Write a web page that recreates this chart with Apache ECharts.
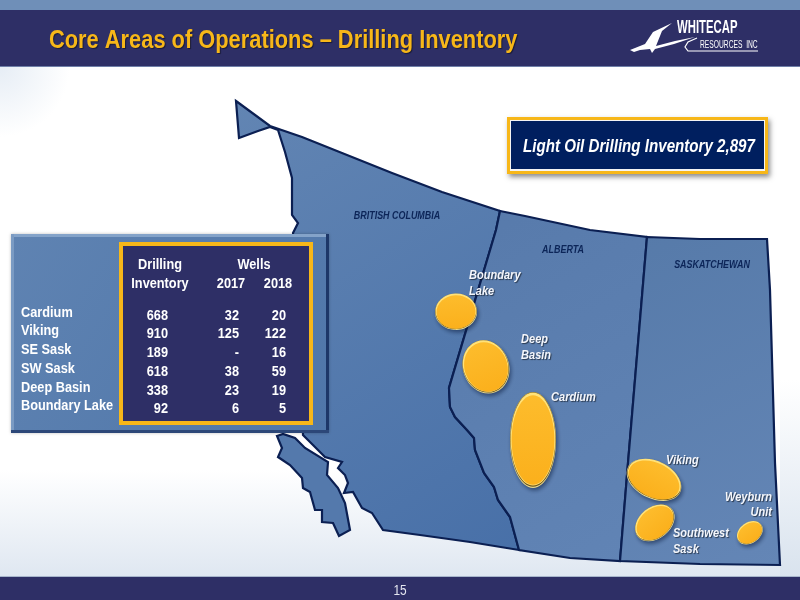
<!DOCTYPE html>
<html><head><meta charset="utf-8">
<style>html,body{margin:0;padding:0;background:#fff}#c{width:800px;height:600px}</style>
<script src="https://cdn.jsdelivr.net/npm/echarts@6/dist/echarts.min.js"></script>
</head><body><div id="c"></div>
<script>
const titleText = 'Core Areas of Operations – Drilling Inventory';
const calloutText = 'Light Oil Drilling Inventory 2,897';
const pageNumber = '15';
const areas = ['Cardium','Viking','SE Sask','SW Sask','Deep Basin','Boundary Lake'];
const drillingInventory = ['668','910','189','618','338','92'];
const wells2017 = ['32','125','-','38','23','6'];
const wells2018 = ['20','122','16','59','19','5'];
const provinces = ['BRITISH COLUMBIA','ALBERTA','SASKATCHEWAN'];

const NAVY='#2e2f66', GOLD='#f7b719', FONT='"Liberation Sans",Arial,sans-serif';

// Map outlines, in the map's own projected units
const bcAbBorder=[[500,211],[496,230],[449,388],[450,407],[455,417],[467,430],[474,438],[475,450],[484,473],[494,487],[498,500],[510,517],[519,550]];
const bcOutline=[[236,101],[270,126],[302,137],[352,157],[392,173],[442,192]].concat(bcAbBorder,[[470,542],[420,535],[383,530],[372,513],[362,508],[353,492],[344,493],[348,483],[345,475],[338,468],[342,462],[325,457],[313,445],[303,435],[300,300],[293,233],[298,223],[292,215],[292,178],[285,152],[278,130],[270,127],[258,131],[239,138]]);
const abOutline=[[500,211],[525,216],[590,230],[647,237],[628,463],[620,561],[570,558]].concat(bcAbBorder.slice().reverse());
const skOutline=[[647,237],[700,239],[767,239],[770,290],[775,463],[780,565],[700,564],[620,561],[628,463]];
const viOutline=[[277,436],[283,434],[295,438],[305,448],[328,462],[327,475],[338,488],[345,503],[350,530],[339,536],[333,523],[322,522],[322,510],[315,510],[310,492],[303,488],[302,478],[290,465],[278,457],[282,448]];
const mapJson={type:'FeatureCollection',features:[
 ['BC',bcOutline],['AB',abOutline],['SK',skOutline],['VI',viOutline]
].map(([name,ring])=>({type:'Feature',properties:{name},geometry:{type:'Polygon',coordinates:[ring.concat([ring[0]])]}}))};
echarts.registerMap('wcan',mapJson);

const grad=(x,y,x2,y2,a,b)=>new echarts.graphic.LinearGradient(x,y,x2,y2,[{offset:0,color:a},{offset:1,color:b}]);
const fieldNames=['Boundary Lake','Deep Basin','Cardium','Viking','Southwest Sask','Weyburn Unit'];
// field ellipses: centre on map, radii, rotation
const fieldCx=[456,486,533,654,655,750];
const fieldCy=[312,367,440,480,523,533];
const fieldRx=[21,23,23,29,22,14];
const fieldRy=[18,27,48,18.5,15.5,10];
const fieldRot=[0.05,0.35,0,-0.45,0.68,0.6];

const el=[];
const rect=(x,y,w,h,fill,z,extra)=>el.push(Object.assign({type:'rect',silent:true,z:z,shape:{x,y,width:w,height:h},style:{fill}},extra||{}));
const text=(x,y,t,o)=>el.push({type:'text',silent:true,z:o.z||200,x,y:y+1,scaleX:o.sx||0.85,style:Object.assign({text:t,fill:'#fff',font:'bold 15px '+FONT,align:'left',verticalAlign:'middle'},o.style||{})});

// page background
rect(0,67,190,70,new echarts.graphic.RadialGradient(0,0,1,[{offset:0,color:'#e6edf5'},{offset:1,color:'#ffffff'}]),-20);
rect(0,470,800,107,grad(0,0,0,1,'#ffffff','#dfe7f1'),-20);
rect(780,380,20,197,grad(0,0,0,1,'#ffffff','#d9e3ee'),-19);
// header and footer
rect(0,0,800,10,'#6f8fb8',150);
rect(0,10,800,57,NAVY,150);
rect(0,66,800,1,'#6f7fa8',150);
rect(0,577,800,23,NAVY,150);
rect(0,576,800,1,'#a8b6cc',150);
text(49,40,titleText,{sx:0.84,style:{fill:GOLD,font:'bold 26px '+FONT,textShadowColor:'rgba(0,0,0,.45)',textShadowBlur:1,textShadowOffsetX:1,textShadowOffsetY:1},z:160});
text(400,590,pageNumber,{style:{fill:'#e4e6f0',font:'14px '+FONT,align:'center'},z:160});
// logo
text(677,27,'WHITECAP',{sx:0.63,style:{font:'bold 18px '+FONT},z:160});
text(700,44,'RESOURCES  INC',{sx:0.67,style:{font:'10px '+FONT},z:160});
el.push({type:'polygon',silent:true,z:160,shape:{points:[[630,50],[645,44],[653,32],[672,23],[662,31],[656,46],[675,41],[695,37],[674,44],[655,49],[652,53],[650,49],[640,50],[634,52]]},style:{fill:'#fff'}});
el.push({type:'polyline',silent:true,z:160,shape:{points:[[697,38],[688,42],[685,47],[688,51],[758,51]]},style:{stroke:'#fff',fill:null,lineWidth:1.2}});
// callout
rect(507,117,261,57,GOLD,120,{style:{fill:GOLD,shadowColor:'rgba(0,0,0,.45)',shadowBlur:5,shadowOffsetX:2,shadowOffsetY:3}});
rect(510,120,255,51,'#f4f4f4',121);
rect(511,121,253,48,'#001f5f',122);
text(523,146,calloutText,{sx:0.84,style:{font:'italic bold 18px '+FONT}});
// province labels
const provStyle={fill:'#0c2558',font:'italic bold 10.5px '+FONT,align:'center'};
text(397,215,provinces[0],{style:provStyle});
text(563,249,provinces[1],{style:provStyle});
text(712,264,provinces[2],{style:provStyle});
// field labels
const lblStyle={font:'italic bold 13px '+FONT,fill:'#f4f6fb',textShadowColor:'rgba(0,0,0,.55)',textShadowBlur:1,textShadowOffsetX:1,textShadowOffsetY:1};
[[469,274,'Boundary','left'],[469,290,'Lake','left'],[521,338,'Deep','left'],[521,354,'Basin','left'],[551,396,'Cardium','left'],[666,459,'Viking','left'],[673,532,'Southwest','left'],[673,548,'Sask','left'],[772,496,'Weyburn','right'],[772,511,'Unit','right']]
 .forEach(([x,y,t,a])=>text(x,y,t,{style:Object.assign({},lblStyle,{align:a})}));
// table panel
rect(11,234,318,199,grad(0,0,1,1,'#5f83b2','#4f76a9'),100,{style:{fill:grad(0,0,1,1,'#5f83b2','#4f76a9'),stroke:null,shadowColor:'rgba(0,0,0,.25)',shadowBlur:3}});
rect(11,234,318,3,'#84a3c9',101);
rect(11,234,3,199,'#7b9bc3',101);
rect(326,234,3,199,'#1d3768',101);
rect(11,430,318,3,'#2c4778',101);
rect(121,244,190,179,NAVY,110,{style:{fill:NAVY,stroke:GOLD,lineWidth:4}});
const hdr={font:'bold 15px '+FONT,align:'center'};
text(160,264,'Drilling',{style:hdr});
text(160,283,'Inventory',{style:hdr});
text(254,264,'Wells',{style:hdr});
text(231,283,'2017',{style:hdr});
text(278,283,'2018',{style:hdr});
const labelY=[312,330,349,368,387,405], rowY=[315,333,352,371,390,408];
areas.forEach((a,i)=>{
 text(21,labelY[i],a,{style:{font:'bold 15px '+FONT}});
 text(168,rowY[i],drillingInventory[i],{style:{font:'bold 15px '+FONT,align:'right'}});
 text(239,rowY[i],wells2017[i],{style:{font:'bold 15px '+FONT,align:'right'}});
 text(286,rowY[i],wells2018[i],{style:{font:'bold 15px '+FONT,align:'right'}});
});

const chart=echarts.init(document.getElementById('c'),null,{renderer:'canvas'});
const area=(a,b)=>grad(0,0,1,1,a,b);
chart.setOption({
 animation:false,backgroundColor:'#ffffff',
 graphic:{elements:el},
 geo:{map:'wcan',silent:true,roam:false,left:0,top:0,width:800,height:600,
  boundingCoords:[[0,0],[800,600]],
  projection:{project:p=>p,unproject:p=>p},
  label:{show:false},
  itemStyle:{areaColor:'#5a7dae',borderColor:'#0b1f52',borderWidth:2.2},
  regions:[
   {name:'BC',itemStyle:{areaColor:area('#6285b3','#4870a8')}},
   {name:'AB',itemStyle:{areaColor:grad(0,0,1,1,'#577aab','#6184b5')}},
   {name:'SK',itemStyle:{areaColor:grad(0,0,1,1,'#567aa9','#6486b6')}},
   {name:'VI',itemStyle:{areaColor:'#5479ac'}}
  ]},
 series:[{type:'custom',coordinateSystem:'geo',silent:true,z:10,
  data:fieldNames.map((n,i)=>({name:n,value:[fieldCx[i],fieldCy[i],fieldRx[i],fieldRy[i],fieldRot[i]]})),
  renderItem:(p,api)=>{
   const c=api.coord([api.value(0),api.value(1)]),rx=api.value(2),ry=api.value(3),rot=api.value(4);
   const e=(dy,k,style)=>({type:'ellipse',shape:{cx:0,cy:dy,rx:rx*k,ry:ry*k},style});
   return {type:'group',x:c[0],y:c[1],rotation:rot,children:[
    e(0,1,{fill:'#e9d98f',shadowColor:'rgba(10,25,60,.55)',shadowBlur:4,shadowOffsetX:1.5,shadowOffsetY:2.5}),
    e(-0.6,0.985,{fill:'#6d5518'}),
    e(-1,0.97,{fill:'#ffe27a'}),
    e(0,0.93,{fill:grad(0,0,0,1,'#fdbc2c','#fbb01c')})
   ]};
  }}]
});
</script></body></html>
